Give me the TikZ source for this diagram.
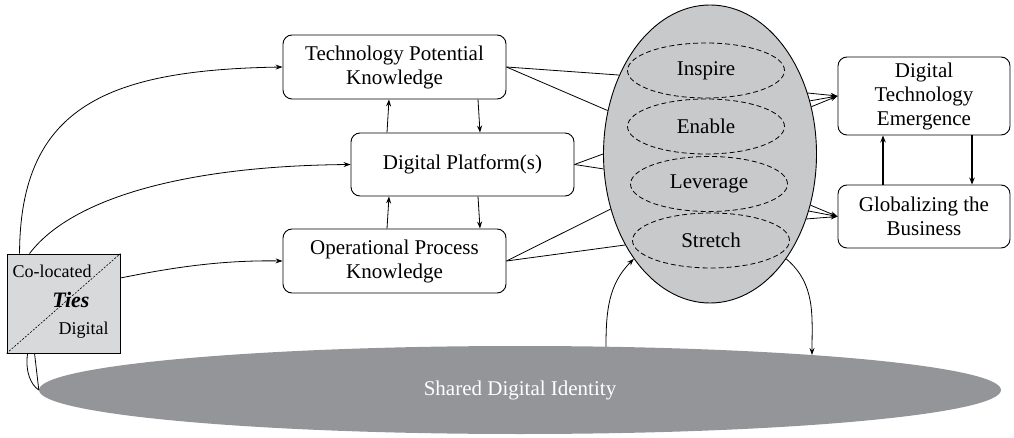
\documentclass[tikz,border=0pt]{standalone}
\usepackage{fontspec}
\setmainfont{Liberation Serif}
\usetikzlibrary{shapes.geometric,arrows.meta}
\definecolor{egg}{RGB}{200,201,203}
\definecolor{ground}{RGB}{147,149,152}
\definecolor{tiesfill}{RGB}{216,217,219}
\begin{document}
\begin{tikzpicture}[x=1pt,y=-1pt,
  mainfont/.style={font=\fontsize{21}{24}\selectfont},
  box/.style={draw, rounded corners=9pt, line width=0.9pt, align=center, inner sep=0pt, mainfont},
  conn/.style={line width=0.8pt},
  arr/.style={conn, -{Stealth[length=7pt,width=5pt]}},
  thickarr/.style={line width=1.3pt, -{Stealth[length=7pt,width=5.5pt]}},
  dashell/.style={draw, ellipse, dash pattern=on 5pt off 3pt, line width=0.8pt, minimum width=157pt, minimum height=55pt, inner sep=0pt, mainfont},
  tiestext/.style={inner sep=0pt, font=\fontsize{18}{20}\selectfont},
]
\useasboundingbox (0,0) rectangle (1014,438);

% ground ellipse
\node[ellipse, fill=ground, minimum width=962pt, minimum height=88pt, inner sep=0pt, text=white, mainfont] (G) at (520,390) {Shared Digital Identity};
\coordinate (gup) at ([shift={(86,-43.3)}]G.center);
\coordinate (gdown) at ([shift={(292,-35)}]G.center);

% boxes
\node[box, minimum width=223pt, minimum height=64pt] (tpk) at (394.5,67) {Technology Potential\\Knowledge};
\node[box, minimum width=223pt, minimum height=63pt] (p) at (462.5,164.5) {Digital Platform(s)};
\node[box, minimum width=223pt, minimum height=64pt] (opk) at (394.5,261) {Operational Process\\Knowledge};
\node[box, minimum width=172pt, minimum height=78pt] (dte) at (924,96) {Digital\\Technology\\Emergence};
\node[box, minimum width=172pt, minimum height=63pt] (gb) at (924,216.5) {Globalizing the\\Business};

% big ellipse
\node[draw, ellipse, fill=egg, line width=0.9pt, minimum width=213pt, minimum height=298pt, inner sep=0pt] (E) at (710,154) {};
\node[dashell] (ins) at (706,70.5) {Inspire};
\node[dashell] (ena) at (706,126.5) {Enable};
\node[dashell] (lev) at (709,184) {Leverage};
\node[dashell] (str) at (711,240.5) {Stretch};

% ties box
\node[draw, fill=tiesfill, minimum width=113pt, minimum height=99pt, inner sep=0pt, line width=0.9pt] (T) at (63.5,303.5) {};
\draw[dash pattern=on 2pt off 1.5pt, line width=0.6pt] (T.south west) -- (T.north east);
\node[tiestext] (cl) at (52,271) {Co-located};
\node[tiestext, font=\fontsize{22}{22}\selectfont\bfseries\itshape] (ti) at (71,300) {Ties};
\node[tiestext] (dg) at (83.5,330) {Digital};

% connectors from ties
\draw[arr] ([xshift=13pt]T.north west) .. controls (20,105) and (110,70) .. (tpk.west);
\draw[arr] ([xshift=23pt]T.north west) .. controls (70,200) and (180,166) .. (p.west);
\draw[arr] ([yshift=25.5pt]T.east) .. controls (170,268) and (220,260) .. (opk.west);
\draw[conn] ([xshift=21pt]T.south west) .. controls (25,372) and (31,385) .. (G.west);
\draw[conn] ([xshift=28pt]T.south west) -- (G.west);

% between boxes
\draw[arr] ([xshift=-75.5pt]p.north) -- ([xshift=-5.5pt]tpk.south);
\draw[arr] ([xshift=83.5pt]tpk.south) -- ([xshift=17.5pt]p.north);
\draw[arr] ([xshift=-7.5pt]opk.north) -- ([xshift=-73.5pt]p.south);
\draw[arr] ([xshift=15.5pt]p.south) -- ([xshift=85.5pt]opk.north);

% boxes to big ellipse
\draw[conn] (tpk.east) -- (E.139.5);
\draw[conn] (tpk.east) -- (E.157);
\draw[conn] (p.east) -- (E.180.5);
\draw[conn] (p.east) -- (E.188.5);
\draw[conn] (opk.east) -- (E.209.7);
\draw[conn] (opk.east) -- (E.227.6);

% big ellipse to right boxes
\draw[arr] (E.32) -- (dte.west);
\draw[arr] (E.28.5) -- (dte.west);
\draw[arr] (E.25) -- (dte.west);
\draw[arr] (E.-27) -- (gb.west);
\draw[arr] (E.-30.5) -- (gb.west);
\draw[arr] (E.-34) -- (gb.west);

% right boxes
\draw[thickarr] ([xshift=-41pt]gb.north) -- ([xshift=-41pt]dte.south);
\draw[thickarr] ([xshift=48pt]dte.south) -- ([xshift=48pt]gb.north);

% ground <-> big ellipse
\draw[arr] (gup) to[out=90, in=225] (E.234.3);
\draw[arr] (E.-54.3) to[out=-40, in=90] (gdown);
\end{tikzpicture}
\end{document}
